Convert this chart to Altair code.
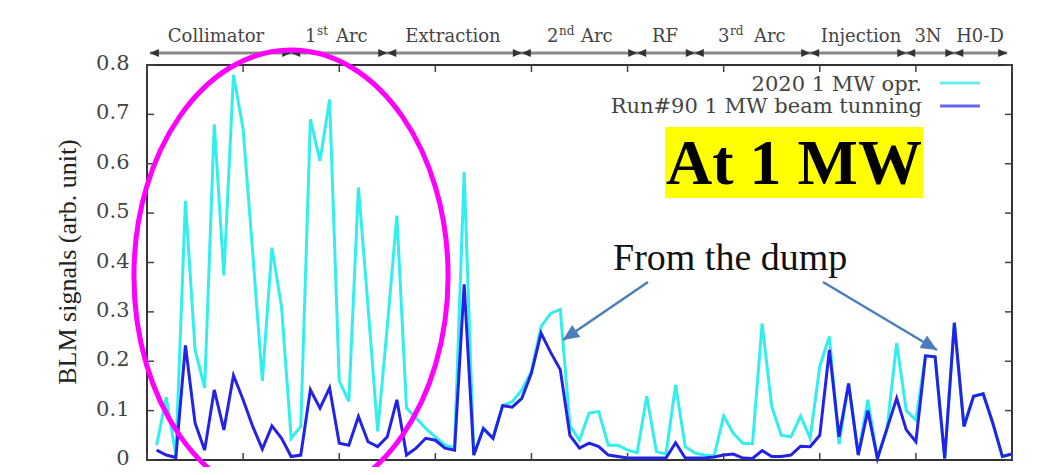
import altair as alt
import pandas as pd

# ---------------- data ----------------
blm_index = list(range(1, 91))

opr_2020 = [0.03, 0.127, 0.01, 0.525, 0.224, 0.146, 0.68, 0.374, 0.78, 0.67,
            0.42, 0.16, 0.43, 0.31, 0.044, 0.068, 0.69, 0.606, 0.73, 0.16,
            0.119, 0.552, 0.31, 0.058, 0.27, 0.495, 0.105, 0.085, 0.064, 0.047,
            0.03, 0.025, 0.583, 0.01, 0.064, 0.044, 0.11, 0.118, 0.142, 0.18,
            0.27, 0.297, 0.305, 0.07, 0.04, 0.095, 0.098, 0.03, 0.03, 0.02,
            0.015, 0.129, 0.017, 0.012, 0.152, 0.027, 0.014, 0.01, 0.008, 0.089,
            0.054, 0.034, 0.033, 0.276, 0.108, 0.05, 0.047, 0.089, 0.044, 0.19,
            0.25, 0.032, 0.155, 0.012, 0.122, 0.003, 0.064, 0.237, 0.1, 0.081,
            0.211, 0.209, 0.003, 0.278, 0.068, 0.129, 0.134, 0.075, 0.007, 0.012]

run90 = [0.02, 0.01, 0.005, 0.232, 0.075, 0.02, 0.142, 0.061, 0.171, 0.122,
         0.068, 0.022, 0.069, 0.044, 0.007, 0.01, 0.142, 0.105, 0.146, 0.034,
         0.03, 0.088, 0.037, 0.027, 0.047, 0.122, 0.01, 0.024, 0.044, 0.04,
         0.024, 0.02, 0.356, 0.01, 0.064, 0.044, 0.11, 0.107, 0.125, 0.176,
         0.257, 0.218, 0.183, 0.05, 0.024, 0.034, 0.027, 0.01, 0.007, 0.004,
         0.004, 0.004, 0.004, 0.004, 0.035, 0.004, 0.004, 0.004, 0.006, 0.01,
         0.012, 0.004, 0.003, 0.019, 0.007, 0.007, 0.01, 0.028, 0.027, 0.05,
         0.223, 0.047, 0.155, 0.01, 0.1, 0.003, 0.064, 0.125, 0.061, 0.037,
         0.211, 0.209, 0.003, 0.278, 0.068, 0.129, 0.134, 0.075, 0.007, 0.012]

series_names = ["2020 1 MW opr.", "Run#90 1 MW beam tunning"]
y_tick_values = [0, 0.1, 0.2, 0.3, 0.4, 0.5, 0.6, 0.7, 0.8]
x_tick_values = [0, 10, 20, 30, 40, 50, 60, 70, 80, 90]

# section boundaries along the top (in BLM index units)
section_start = 0.3
section_end = 89.5
section_bounds = [15, 25, 39, 51, 57, 69, 79, 84]

# ---------------- layout constants ----------------
X0, Y0 = 147, 65          # plot origin on the page
W, H = 865, 395
CYAN = "#33eeee"
BLUE = "#2323e6"
GP_FONT = "DejaVu Serif"
TM_FONT = "Liberation Serif"
ARROW_BLUE = "#4a7ebb"

dummy = pd.DataFrame({"a": [1]})


def px(X):
    return X - X0


def py(Y):
    return Y - Y0


def txt(t, X, Y, size, font=GP_FONT, color="#444", align="left",
        weight="normal", angle=None, baseline="alphabetic"):
    kw = dict(text=t, fontSize=size, font=font, color=color, align=align,
              baseline=baseline, fontWeight=weight)
    if angle is not None:
        kw["angle"] = angle
    return alt.Chart(dummy).mark_text(**kw).encode(
        x=alt.value(px(X)), y=alt.value(py(Y)))


xscale = alt.Scale(domain=[0, 90], nice=False, zero=False)
yscale = alt.Scale(domain=[0, 0.8], nice=False)

df_c = pd.DataFrame({"i": blm_index, "v": opr_2020})
df_b = pd.DataFrame({"i": blm_index, "v": run90})

yaxis = alt.Axis(values=y_tick_values, format="~g", ticks=False, tickSize=0,
                 domain=False, grid=False, labelFont=GP_FONT, labelFontSize=21,
                 labelColor="#444", labelPadding=18, labelOffset=-1.5,
                 title=None)

line_c = alt.Chart(df_c).mark_line(color=CYAN, strokeWidth=3).encode(
    x=alt.X("i:Q", scale=xscale, axis=None),
    y=alt.Y("v:Q", scale=yscale, axis=yaxis))
line_b = alt.Chart(df_b).mark_line(color=BLUE, strokeWidth=3).encode(
    x=alt.X("i:Q", scale=xscale, axis=None),
    y=alt.Y("v:Q", scale=yscale, axis=yaxis))

# inward ticks (gnuplot style) on all four sides
ytk = pd.DataFrame({"v": y_tick_values})
xtk = pd.DataFrame({"i": x_tick_values})
tick_col = "#444"
ticks_l = alt.Chart(ytk).mark_rule(color=tick_col, strokeWidth=1.5).encode(
    y=alt.Y("v:Q", axis=yaxis), x=alt.value(0), x2=alt.value(7))
ticks_r = alt.Chart(ytk).mark_rule(color=tick_col, strokeWidth=1.5).encode(
    y=alt.Y("v:Q", axis=yaxis), x=alt.value(W - 7), x2=alt.value(W))
ticks_b = alt.Chart(xtk).mark_rule(color=tick_col, strokeWidth=1.5).encode(
    x=alt.X("i:Q", axis=None), y=alt.value(H - 7), y2=alt.value(H))
ticks_t = alt.Chart(xtk).mark_rule(color=tick_col, strokeWidth=1.5).encode(
    x=alt.X("i:Q", axis=None), y=alt.value(0), y2=alt.value(7))

# ---------------- section bar on top ----------------
sec_df = pd.DataFrame({"i": [section_start], "i2": [section_end]})
sec_line = alt.Chart(sec_df).mark_rule(color="#8a8a8a", strokeWidth=3).encode(
    x=alt.X("i:Q", axis=None), x2="i2:Q", y=alt.value(py(53)))
RIGHT_HEAD = "M 0 0 L -1 -0.45 L -1 0.45 Z"
LEFT_HEAD = "M 0 0 L 1 -0.45 L 1 0.45 Z"
rh = pd.DataFrame({"i": section_bounds + [section_end]})
lh = pd.DataFrame({"i": [section_start] + section_bounds})
heads_r = alt.Chart(rh).mark_point(shape=RIGHT_HEAD, filled=True, size=324,
                                   color="#333", opacity=1).encode(
    x=alt.X("i:Q", axis=None), y=alt.value(py(53)))
heads_l = alt.Chart(lh).mark_point(shape=LEFT_HEAD, filled=True, size=324,
                                   color="#333", opacity=1).encode(
    x=alt.X("i:Q", axis=None), y=alt.value(py(53)))

SEC_SIZE = 18
SUP_SIZE = 12
sec_texts = [
    txt("Collimator", 216, 42, SEC_SIZE, align="center"),
    txt("1", 305, 42, SEC_SIZE), txt("st", 317, 35, SUP_SIZE), txt("Arc", 336, 42, SEC_SIZE),
    txt("Extraction", 453, 42, SEC_SIZE, align="center"),
    txt("2", 547, 42, SEC_SIZE), txt("nd", 559, 35, SUP_SIZE), txt("Arc", 581, 42, SEC_SIZE),
    txt("RF", 665, 42, SEC_SIZE, align="center"),
    txt("3", 718, 42, SEC_SIZE), txt("rd", 730, 35, SUP_SIZE), txt("Arc", 754, 42, SEC_SIZE),
    txt("Injection", 861, 42, SEC_SIZE, align="center"),
    txt("3N", 928, 42, SEC_SIZE, align="center"),
    txt("H0-D", 980, 42, SEC_SIZE, align="center"),
]

# ---------------- legend (gnuplot key) ----------------
legend = [
    txt(series_names[0], 922, 91, 21, align="right"),
    txt(series_names[1], 922, 113, 21, align="right"),
    alt.Chart(dummy).mark_rule(color="#66efef", strokeWidth=3).encode(
        x=alt.value(px(940)), x2=alt.value(px(980)), y=alt.value(py(83))),
    alt.Chart(dummy).mark_rule(color="#6666ee", strokeWidth=3).encode(
        x=alt.value(px(940)), x2=alt.value(px(980)), y=alt.value(py(106))),
]

# ---------------- slide overlays ----------------
box = alt.Chart(dummy).mark_rect(color="#ffff00").encode(
    x=alt.value(px(665)), x2=alt.value(px(923)),
    y=alt.value(py(127)), y2=alt.value(py(198)))
at1mw = txt("At 1 MW", 794, 184, 64, font=TM_FONT, color="#000",
            align="center", weight="bold")
dump = txt("From the dump", 613, 270, 38, font=TM_FONT, color="#111")
ytitle = txt("BLM signals (arb. unit)", 76, 262, 26, font=TM_FONT,
             color="#222", align="center", angle=270)

ARROW_HEAD = "M 0 0 L 0.45 1 L -0.45 1 Z"
arrows = []
for (sx, sy, tx, ty, ang) in [(648, 282, 563, 340, 235.7),
                              (823, 282, 937, 350, 121.1)]:
    arrows.append(alt.Chart(dummy).mark_rule(color=ARROW_BLUE, strokeWidth=2.5).encode(
        x=alt.value(px(sx)), y=alt.value(py(sy)),
        x2=alt.value(px(tx)), y2=alt.value(py(ty))))
    arrows.append(alt.Chart(dummy).mark_point(shape=ARROW_HEAD, filled=True,
                                              size=1024, angle=ang,
                                              color=ARROW_BLUE, opacity=1).encode(
        x=alt.value(px(tx)), y=alt.value(py(ty))))

ELLIPSE = "M -0.695 0 A 0.695 1 0 1 0 0.695 0 A 0.695 1 0 1 0 -0.695 0 Z"
ellipse = alt.Chart(dummy).mark_point(shape=ELLIPSE, filled=False,
                                      size=452 * 452, stroke="#ff00ff",
                                      strokeWidth=5, opacity=1).encode(
    x=alt.value(px(291)), y=alt.value(py(276)))

chart = alt.layer(
    line_c, line_b,
    ticks_l, ticks_r, ticks_b, ticks_t,
    sec_line, heads_r, heads_l, *sec_texts,
    *legend, box, at1mw, dump, ytitle, *arrows, ellipse,
).properties(
    width=W, height=H,
    autosize=alt.AutoSizeParams(type="none"),
    padding={"left": X0 - 8, "top": Y0 - 8, "right": 14, "bottom": 7},
    background="white",
).configure_view(stroke="#333", strokeWidth=2)

chart.save("out.html", embed_options={"renderer": "svg", "actions": False})
